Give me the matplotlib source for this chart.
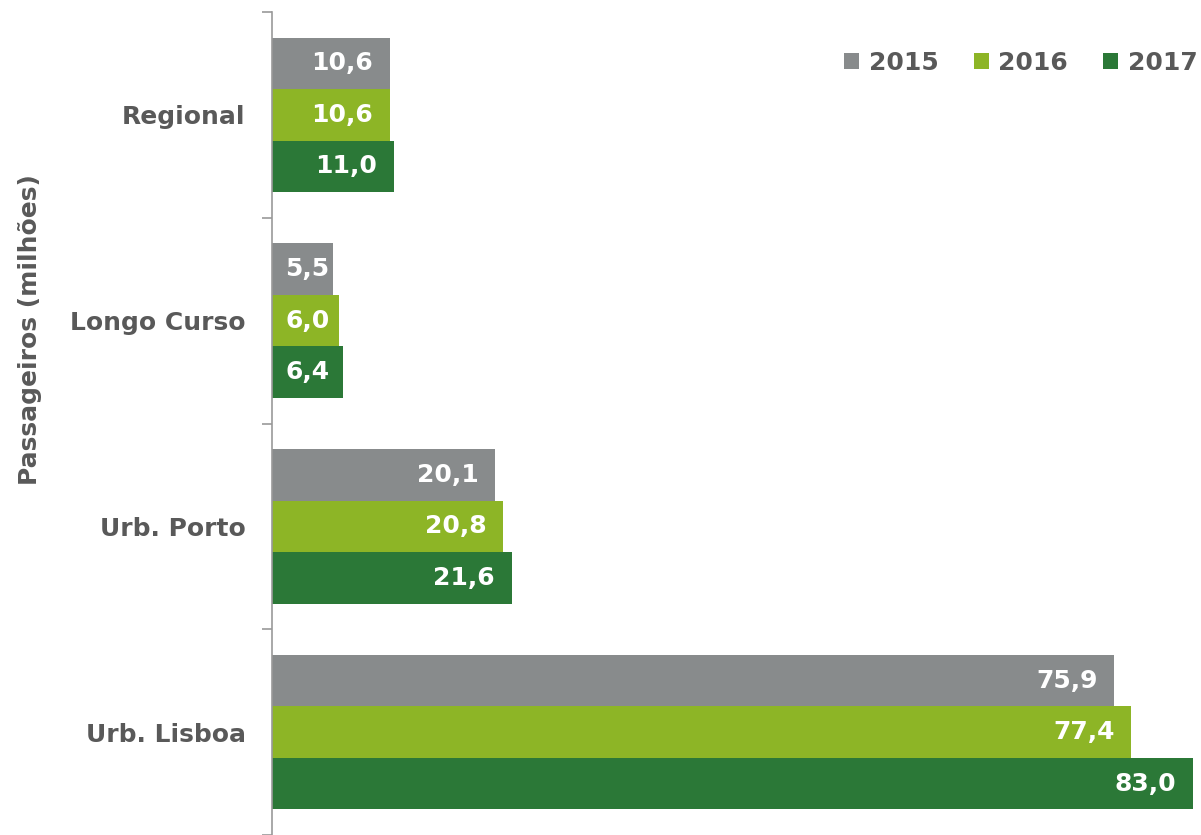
import numpy as np
import matplotlib.pyplot as plt

categories = ["Regional", "Longo Curso", "Urb. Porto", "Urb. Lisboa"]
years = ["2015", "2016", "2017"]
v2015 = [10.6, 5.5, 20.1, 75.9]
v2016 = [10.6, 6.0, 20.8, 77.4]
v2017 = [11.0, 6.4, 21.6, 83.0]
colors = ["#888b8c", "#8db526", "#2b7837"]

txt = "#595959"
fs = 18
plt.rcParams['font.family'] = ['DejaVu Sans']

fig = plt.figure(figsize=(12.01, 8.35), dpi=100)
ax = fig.add_axes([272 / 1201, 0.0, 1 - 272 / 1201, 823 / 835])

y = np.arange(len(categories))
h = 0.25
for i, (vals, yr) in enumerate(zip([v2015, v2016, v2017], years)):
    pos = y + (i - 1) * h
    bars = ax.barh(pos, vals, height=h, color=colors[i], label=yr)
    for b, v in zip(bars, vals):
        lab = f"{v:.1f}".replace(".", ",")
        # short bars: label sits near the base instead of the end
        if v < 8:
            ax.text(1.2, b.get_y() + h / 2, lab, ha="left", va="center",
                    color="white", fontweight="bold", fontsize=fs)
        else:
            ax.text(v - 1.5, b.get_y() + h / 2, lab, ha="right", va="center",
                    color="white", fontweight="bold", fontsize=fs)

ax.set_xlim(0, 83.7)
ax.set_ylim(len(categories) - 0.5, -0.5)
ax.set_yticks(y)
ax.set_yticklabels(categories, fontweight="bold", fontsize=fs, color=txt)
ax.tick_params(axis="y", which="major", length=0, pad=19)
ax.set_yticks(np.arange(-0.5, len(categories)), minor=True)
ax.tick_params(axis="y", which="minor", length=7, color="#999999", width=1.2)
ax.set_xticks([])
for s in ["top", "right", "bottom"]:
    ax.spines[s].set_visible(False)
ax.spines["left"].set_color("#999999")
ax.spines["left"].set_linewidth(1.2)

fig.text(30 / 1201, 1 - 330 / 835, "Passageiros (milhões)", rotation=90,
         ha="center", va="center", fontsize=fs, fontweight="bold", color=txt)

leg = fig.legend(*ax.get_legend_handles_labels(), loc="center right",
                 bbox_to_anchor=(1198 / 1201, 1 - 63 / 835), ncol=3, frameon=False,
                 borderaxespad=0, borderpad=0,
                 handlelength=0.6, handleheight=0.6, handletextpad=0.4, columnspacing=1.4,
                 prop={"weight": "bold", "size": fs})
for t in leg.get_texts():
    t.set_color(txt)

fig.savefig("out.png", dpi=100)
